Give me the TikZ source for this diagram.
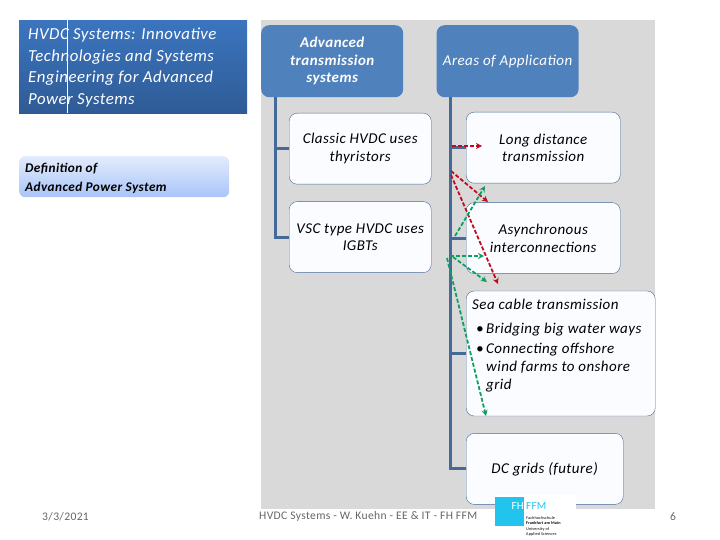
\documentclass[tikz,border=0pt]{standalone}
\usepackage{fontspec}
\setmainfont{Carlito}[LetterSpace=3]
\usetikzlibrary{arrows.meta,positioning}
\tikzset{>=Stealth}
\definecolor{headblue}{HTML}{4F81BD}
\definecolor{trunkblue}{HTML}{456A98}
\definecolor{slidegray}{HTML}{D9D9D9}
\definecolor{leaffill}{HTML}{FBFCFF}
\definecolor{titletop}{HTML}{3B75BF}
\definecolor{titlebottom}{HTML}{2F5B95}
\definecolor{defntop}{HTML}{E3ECFC}
\definecolor{defnbottom}{HTML}{A9C4F8}
\definecolor{arrowred}{HTML}{C00C20}
\definecolor{arrowgreen}{HTML}{0FA060}
\definecolor{logocyan}{HTML}{22C4EE}
\definecolor{footgray}{HTML}{666666}

\begin{document}
\begin{tikzpicture}[
    x=1pt, y=-1pt,
    head/.style={rectangle, rounded corners=8pt, fill=headblue, text=white, inner sep=0pt,
        minimum width=142pt, minimum height=72pt, align=center, font=\fontsize{15}{17.5}\selectfont\itshape},
    leaf/.style={rectangle, draw=trunkblue, rounded corners=8pt, fill=leaffill, inner sep=0pt,
        minimum height=71pt, align=center, font=\fontsize{15}{17.5}\selectfont\itshape},
    trunk/.style={draw=trunkblue, line width=3pt},
    redarrow/.style={-{Stealth[length=6pt,width=6pt]}, arrowred, dash pattern=on 4pt off 2pt, line width=1.8pt},
    greenarrow/.style={-{Stealth[length=6pt,width=6pt]}, arrowgreen, dash pattern=on 4pt off 2pt, line width=1.8pt},
    foot/.style={font=\fontsize{11.6}{13}\selectfont, text=footgray, inner sep=0pt}
]
    \useasboundingbox (0,0) rectangle (720,540);
    % left column
    \node[anchor=north west, minimum width=228pt, minimum height=93pt, inner sep=0pt,
        top color=titletop, bottom color=titlebottom] (title) at (19,20) {};
    \node[anchor=north west, text=white, align=left, inner sep=0pt,
        font=\fontsize{16.8}{21.7}\selectfont\itshape] (titletext) at (28,27.5)
        {HVDC Systems: Innovative\\Technologies and Systems\\Engineering for Advanced\\Power Systems};
    \draw[white, thin] ([xshift=48pt]title.north west) -- ([xshift=48pt]title.south west);
    \node[anchor=north west, rectangle, rounded corners=6pt, minimum width=210pt, minimum height=41pt,
        inner sep=0pt, top color=defntop, bottom color=defnbottom] (defn) at (19,156) {};
    \node[anchor=west, align=left, inner sep=0pt, font=\fontsize{13.3}{19}\selectfont\itshape\bfseries]
        (defntext) at (25,178.5) {Definition of\\Advanced Power System};

    % gray panel
    \fill[slidegray] (261,20) rectangle (655,509);

    \node[head, anchor=north west, font=\fontsize{15}{17.5}\selectfont\itshape\bfseries] (adv) at (261,25) {Advanced\\transmission\\systems};
    \node[head, right=33pt of adv] (areas) {Areas of Application};
    \node[leaf, anchor=north west, minimum width=142pt] (classic) at (289,113) {Classic HVDC uses\\thyristors};
    \node[leaf, below=17pt of classic, minimum width=142pt] (vsc) {VSC type HVDC uses\\IGBTs};
    \node[leaf, anchor=north west, minimum width=154pt] (long) at (466,112) {Long distance\\transmission};
    \node[leaf, below=19pt of long, minimum width=154pt] (async) {Asynchronous\\interconnections};
    \node[leaf, below=17pt of async.south west, anchor=north west, minimum width=189pt, minimum height=125pt] (sea) {};
    \node[anchor=north west, align=left, inner sep=0pt, font=\fontsize{15}{18}\selectfont\itshape] (seatext) at (472,298.5)
        {Sea cable transmission\\[6pt]
         \hspace*{4pt}\makebox[10pt][l]{\textbullet}Bridging big water ways\\[2pt]
         \hspace*{4pt}\makebox[10pt][l]{\textbullet}Connecting offshore\\
         \hspace*{14pt}wind farms to onshore\\
         \hspace*{14pt}grid};
    \node[leaf, below=17pt of sea.south west, anchor=north west, minimum width=157pt] (dcgrid) {DC grids (future)};

    % tree lines
    \coordinate (advroot) at ([xshift=14pt]adv.south west);
    \coordinate (arearoot) at ([xshift=14pt]areas.south west);
    \draw[trunk] (advroot) |- (vsc.west);
    \draw[trunk] (advroot |- classic.west) -- (classic.west);
    \draw[trunk] (arearoot) |- (dcgrid.west);
    \draw[trunk] (arearoot |- long.west) -- (long.west);
    \draw[trunk] (arearoot |- async.west) -- (async.west);
    \draw[trunk] (arearoot |- sea.west) -- (sea.west);

    % animation arrows
    \foreach \nm/\px/\py in {ra/452/146, rb/482/146, rc/451/171, rd/488/202, re/451/175, rf/498/284,
        ga/455/236, gb/485/186, gc/450/256, gd/484/256, ge/453/257, gf/487/282, gg/447/258, gh/486/416}
        \coordinate (\nm) at (\px,\py);
    \draw[redarrow] (ra) -- (rb);
    \draw[redarrow] (rc) -- (rd);
    \draw[redarrow] (re) -- (rf);
    \draw[greenarrow] (ga) -- (gb);
    \draw[greenarrow] (gc) -- (gd);
    \draw[greenarrow] (ge) -- (gf);
    \draw[greenarrow] (gg) -- (gh);

    % footer
    \node[foot, anchor=west] (datelabel) at (42,517) {3/3/2021};
    \node[foot, anchor=west] (footlabel) at (259,516) {HVDC Systems - W. Kuehn - EE \& IT - FH FFM};
    \node[foot, anchor=west] (pagelabel) at (670,517) {6};
    \node[anchor=north west, fill=white, minimum width=81pt, minimum height=45pt, inner sep=0pt] (logo) at (495,495) {};
    \node[anchor=north west, fill=logocyan, minimum width=29pt, minimum height=29pt, inner sep=0pt] (logosq) at (495,497) {};
    \node[anchor=north east, text=white, inner sep=0pt, font=\fontsize{11}{12}\selectfont] (logofh) at (524,502) {FH};
    \node[anchor=north west, text=logocyan, inner sep=0pt, font=\fontsize{11}{12}\selectfont] (logoffm) at (526,502) {FFM};
    \node[anchor=north west, align=left, inner sep=0pt, font=\fontsize{4.2}{5.6}\selectfont] (logotext) at (526,516)
        {Fachhochschule\\\textbf{Frankfurt am Main}\\University of\\Applied Sciences};
\end{tikzpicture}
\end{document}
